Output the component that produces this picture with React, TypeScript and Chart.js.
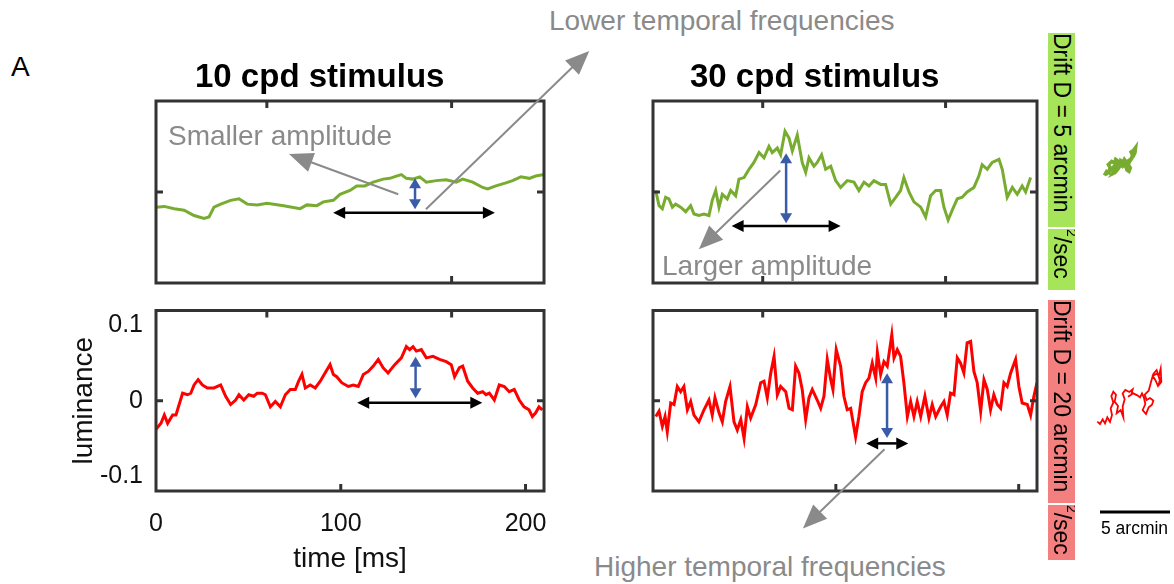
import React, { useEffect, useRef } from "react";
import { Chart, registerables } from "chart.js";
Chart.register(...registerables);

const FONT = '"Liberation Sans", Arial, Helvetica, sans-serif';
Chart.defaults.font.family = FONT;

// ---------- colours ----------
const GREEN = "#77ac30";
const RED = "#ff0000";
const BLUE = "#3a5ca8";
const GRAY = "#8a8a8a";
const FRAME = "#333333";
const GREEN_BAND = "#a6e55a";
const RED_BAND = "#f37f7f";

// ---------- data: 10 cpd, D = 5 (top-left) ----------
const tTL = [0, 4.5, 9.9, 15.2, 20.6, 26, 28.7, 31.4, 35, 40.4, 44.9, 49.4, 54.8, 60.1, 69.1, 78, 81.7, 87, 90.6, 96, 99.6, 105, 108.6, 113, 117.6, 123, 126.6, 130.1, 132.8, 135.5, 139, 142.7, 146.3, 151.7, 157, 162.5, 166, 171.4, 176.8, 179.5, 184, 189.4, 193, 197.5, 202, 205.5, 210];
const lumTL = [-0.02, -0.019, -0.022, -0.024, -0.031, -0.035, -0.033, -0.02, -0.016, -0.011, -0.009, -0.016, -0.017, -0.015, -0.018, -0.022, -0.017, -0.018, -0.013, -0.011, -0.003, 0.002, 0.008, 0.008, 0.013, 0.017, 0.018, 0.021, 0.023, 0.018, 0.017, 0.02, 0.013, 0.015, 0.016, 0.013, 0.017, 0.013, 0.006, 0.004, 0.008, 0.012, 0.015, 0.02, 0.018, 0.021, 0.023];

// ---------- data: 30 cpd, D = 5 (top-right) ----------
const tTR = [1.5, 3.3, 5.1, 6.9, 8.7, 10.6, 12.4, 15.1, 17.9, 20.6, 22.4, 25.1, 27.9, 30.6, 32.4, 34.3, 36.1, 37.9, 40.6, 42.5, 45.2, 47, 49.8, 52.5, 55.2, 58, 60.7, 63.4, 65.2, 68, 69.8, 72.2, 74.4, 76.2, 78.9, 81.6, 83.5, 85.3, 88, 89.8, 92.2, 94.4, 97.2, 99.9, 102.6, 106.2, 109.9, 112.6, 115.4, 118.1, 120.8, 124.5, 127.2, 130, 132.7, 135.4, 137.2, 140, 142.7, 146.4, 149.1, 151.8, 154.6, 157.3, 159.1, 161.4, 164, 166.4, 169.1, 171.8, 175.5, 178.2, 180, 182.8, 185.5, 189.2, 191, 193.7, 196.5, 199.2, 201.9, 203.8, 206.5];
const lumTR = [0.002, -0.018, -0.022, -0.007, -0.009, -0.02, -0.016, -0.02, -0.026, -0.018, -0.029, -0.031, -0.029, -0.031, -0.011, 0.002, -0.02, -0.003, -0.009, 0.002, -0.005, 0.017, 0.019, 0.03, 0.039, 0.052, 0.045, 0.06, 0.052, 0.058, 0.049, 0.08, 0.071, 0.054, 0.075, 0.039, 0.026, 0.045, 0.034, 0.039, 0.049, 0.03, 0.034, 0.015, 0.006, 0.015, 0.013, 0.002, 0.013, 0.008, 0.015, 0.01, 0.01, -0.016, -0.007, 0.002, 0.019, 0.0, -0.013, -0.02, -0.033, -0.005, 0.002, 0.002, -0.02, -0.037, -0.022, -0.009, -0.007, 0.0, 0.006, 0.021, 0.036, 0.03, 0.039, 0.043, 0.03, -0.007, 0.006, -0.003, 0.008, 0.0, 0.019];

// ---------- data: 10 cpd, D = 20 (bottom-left) ----------
const tBL = [0, 2.7, 4.5, 6.3, 9, 10.8, 14.4, 17.1, 18.8, 20.6, 22.8, 25.1, 27.8, 31.4, 35, 37.7, 40.4, 43.1, 44.9, 47.5, 50.2, 52.9, 54.8, 57.5, 59.2, 61.9, 64.6, 67.3, 70, 72.7, 75.4, 77.2, 79, 80.8, 83.5, 86.2, 88.9, 91.5, 94.2, 96, 97.8, 100.5, 104.1, 106.8, 109.5, 112.2, 114.9, 117.6, 120.3, 122.9, 125.6, 129.2, 132.8, 135.5, 137.3, 139.1, 140.9, 143.6, 146.3, 149.9, 153.5, 157.1, 159.8, 161.6, 164.2, 166, 168.7, 171.4, 174.1, 176.8, 178.6, 180.4, 183.1, 185.8, 188.5, 191.2, 193.9, 196.6, 199.2, 201.9, 203.7, 205.5, 207.3, 209.1];
const lumBL = [-0.038, -0.03, -0.019, -0.03, -0.019, -0.019, 0.01, 0.008, 0.01, 0.021, 0.028, 0.021, 0.017, 0.017, 0.021, 0.006, -0.005, 0.001, 0.008, 0.001, 0.008, 0.006, 0.01, 0.01, 0.008, -0.008, -0.001, -0.008, 0.008, 0.015, 0.015, 0.026, 0.035, 0.017, 0.021, 0.017, 0.026, 0.037, 0.048, 0.035, 0.032, 0.024, 0.019, 0.021, 0.019, 0.035, 0.039, 0.046, 0.055, 0.044, 0.037, 0.048, 0.057, 0.072, 0.068, 0.072, 0.066, 0.068, 0.057, 0.059, 0.055, 0.052, 0.048, 0.032, 0.044, 0.046, 0.026, 0.017, 0.01, 0.012, 0.008, 0.01, 0.001, 0.021, 0.019, 0.012, 0.015, 0.001, -0.008, -0.012, -0.021, -0.016, -0.008, -0.012];

// ---------- data: 30 cpd, D = 20 (bottom-right) ----------
const tBR = [1.5, 3.3, 5.1, 6.6, 7.8, 9.7, 11.5, 13.3, 15.1, 16.9, 18.8, 20.6, 22.4, 25.1, 27.9, 30.6, 32.4, 33.9, 36.1, 37.9, 39.7, 42.1, 44.3, 46.1, 48, 49.8, 51.6, 53.4, 56.2, 58.9, 60.7, 62.5, 64.4, 66.2, 68, 69.8, 72.6, 74.4, 76.2, 78, 79.8, 81.6, 83.5, 85.3, 87.1, 89.8, 91.7, 93.5, 95.3, 97.2, 98.4, 100.2, 102.6, 104.4, 106.2, 108.1, 109.5, 110.8, 112.6, 114.4, 116.3, 118.1, 119.9, 121.8, 122.7, 124.5, 126.3, 128.1, 130.6, 131.8, 133.6, 135.4, 137.2, 139.1, 140.9, 142.7, 144.5, 146.4, 148.7, 150.9, 152.7, 154.6, 157.3, 159.1, 160.9, 162.7, 164.6, 166.4, 168.2, 170, 171.8, 173.7, 175.5, 177.3, 179.2, 181, 182.8, 184.6, 186.4, 188.3, 190.1, 191.9, 193.7, 195.6, 198.3, 200.1, 201.9, 204.7, 206.5, 208.3, 210];
const lumBR = [-0.021, -0.014, -0.034, -0.021, -0.041, -0.003, -0.005, 0.019, 0.012, 0.019, -0.012, -0.001, -0.019, -0.028, -0.012, 0.001, -0.019, 0.004, -0.016, -0.028, -0.001, 0.019, -0.028, -0.039, -0.025, -0.05, -0.008, -0.023, -0.005, 0.024, 0.026, 0.004, 0.037, 0.059, 0.008, 0.019, 0.012, -0.01, -0.012, 0.046, 0.037, 0.015, -0.025, 0.004, 0.015, 0.001, -0.01, 0.006, 0.055, 0.028, 0.015, 0.068, 0.046, 0.006, -0.012, -0.01, -0.03, -0.048, -0.021, 0.012, 0.024, 0.03, 0.05, 0.03, 0.064, 0.035, 0.052, 0.046, 0.088, 0.057, 0.068, 0.059, 0.024, -0.021, -0.001, -0.021, -0.001, -0.021, 0.006, -0.023, -0.005, -0.021, -0.008, -0.001, -0.019, 0.01, 0.008, 0.057, 0.05, 0.037, 0.077, 0.079, 0.039, 0.024, -0.014, 0.028, 0.015, -0.012, 0.008, -0.005, -0.01, 0.024, 0.019, 0.037, 0.055, 0.019, -0.003, -0.005, -0.019, 0.006, 0.024];

// ---------- eye-drift traces (arcmin) ----------
const greenWalkX = [1.381, 1.548, 1.714, 1.786, 1.667, 1.905, 2.095, 2.19, 2.381, 2.476, 2.286, 2.095, 1.952, 2.143, 2.333, 2.5, 2.571, 2.714, 2.81, 2.952, 2.905, 3.0, 3.143, 3.238, 3.095, 3.19, 3.333, 3.381, 3.286, 3.476, 3.619, 3.571, 3.429, 3.238, 3.048, 2.857, 2.714, 2.619, 2.429, 2.238, 2.048, 1.857, 1.619, 1.476];
const greenWalkY = [25.33, 25.62, 25.52, 25.9, 26.1, 26.33, 26.21, 26.48, 26.33, 26.1, 25.86, 25.67, 25.43, 25.52, 25.76, 26.0, 26.38, 26.29, 26.48, 26.29, 26.0, 25.71, 25.62, 25.86, 26.1, 26.33, 26.52, 26.81, 27.0, 27.14, 27.33, 26.95, 26.67, 26.48, 26.33, 26.14, 26.0, 26.19, 26.29, 26.1, 25.95, 25.71, 25.52, 25.38];
const redWalkX = [0.881, 1.071, 1.262, 1.429, 1.595, 1.786, 1.929, 1.833, 2.024, 1.881, 2.024, 2.214, 2.119, 2.357, 2.262, 2.548, 2.738, 2.69, 2.833, 2.69, 2.881, 3.167, 3.405, 3.31, 3.071, 3.452, 3.738, 3.929, 4.071, 4.214, 4.31, 4.119, 4.357, 4.548, 4.786, 4.881, 4.643, 4.405, 4.262, 4.548, 4.738, 4.881, 5.119, 5.262, 5.405, 5.452, 5.214, 5.024, 4.833, 5.167, 5.357, 5.262];
const redWalkY = [7.738, 7.571, 7.905, 7.619, 8.048, 7.714, 8.214, 8.69, 9.095, 9.571, 9.881, 9.667, 9.167, 8.857, 8.333, 8.571, 8.048, 8.81, 9.333, 9.762, 10.0, 9.857, 10.048, 9.667, 9.524, 9.762, 9.619, 9.476, 9.762, 9.429, 9.0, 8.571, 8.286, 8.762, 8.952, 9.238, 9.429, 9.286, 9.667, 9.952, 10.667, 11.143, 11.429, 10.952, 11.524, 10.571, 10.286, 10.714, 11.0, 11.19, 10.762, 10.381];
const scaleBarX = [1.071, 6.071];
const scaleBarY = [1.286, 1.286];

// ---------- axes ----------
const xTickValues = [0, 100, 200];
const xTickLabels = ["0", "100", "200"];
const yTickValues = [-0.1, 0, 0.1];
const yTickLabels = ["-0.1", "0", "0.1"];

// ---------- annotation arrows, in each panel's data units [t, lum] ----------
type Arrow = { from: number[]; to: number[]; kind: "gray" | "blue" | "black" };
const arrowsTL: Arrow[] = [
  { from: [131.1, -0.003], to: [72.0, 0.05], kind: "gray" },
  { from: [146.1, -0.0228], to: [234.5, 0.186], kind: "gray" },
  { from: [140.2, -0.0228], to: [140.2, 0.018], kind: "blue" },
  { from: [95.9, -0.0273], to: [183.4, -0.0273], kind: "black" },
];
const arrowsTR: Arrow[] = [
  { from: [69.6, 0.0284], to: [25.1, -0.0756], kind: "gray" },
  { from: [72.8, -0.0413], to: [72.8, 0.051], kind: "blue" },
  { from: [43.0, -0.0448], to: [102.6, -0.0448], kind: "black" },
];
const arrowsBL: Arrow[] = [
  { from: [140.5, 0.0032], to: [140.5, 0.0585], kind: "blue" },
  { from: [108.9, -0.0027], to: [176.6, -0.0027], kind: "black" },
];
const arrowsBR: Arrow[] = [
  { from: [126.6, -0.0646], to: [82.0, -0.1697], kind: "gray" },
  { from: [128, -0.0496], to: [128, 0.0364], kind: "blue" },
  { from: [116.6, -0.0567], to: [139.6, -0.0567], kind: "black" },
];

const ARROW_STYLE = {
  gray: { color: GRAY, width: 2, len: 24, half: 10, double: false },
  blue: { color: BLUE, width: 2.5, len: 10, half: 6, double: true },
  black: { color: "#000000", width: 2.5, len: 12, half: 6, double: true },
};

type FrameTicks = { top: number[]; bottom: number[]; left: number[]; right: number[] };

function pts(xs: number[], ys: number[]) {
  const n = Math.min(xs.length, ys.length);
  const out: { x: number; y: number }[] = [];
  for (let i = 0; i < n; i++) out.push({ x: xs[i], y: ys[i] });
  return out;
}

function head(ctx: CanvasRenderingContext2D, fx: number, fy: number, tx: number, ty: number, len: number, half: number) {
  const a = Math.atan2(ty - fy, tx - fx);
  const bx = tx - len * Math.cos(a);
  const by = ty - len * Math.sin(a);
  ctx.beginPath();
  ctx.moveTo(tx, ty);
  ctx.lineTo(bx + half * Math.sin(a), by - half * Math.cos(a));
  ctx.lineTo(bx - half * Math.sin(a), by + half * Math.cos(a));
  ctx.closePath();
  ctx.fill();
  return [bx + 0.5 * Math.cos(a), by + 0.5 * Math.sin(a)];
}

function framePlugin(ticks: FrameTicks) {
  return {
    id: "frame",
    afterDatasetsDraw(chart: any) {
      const { ctx, chartArea: a } = chart;
      const xs = chart.scales.x;
      const ys = chart.scales.y;
      const L = 7;
      ctx.save();
      ctx.strokeStyle = FRAME;
      ctx.lineWidth = 3;
      ctx.beginPath();
      ticks.top.forEach((v) => { const p = xs.getPixelForValue(v); ctx.moveTo(p, a.top); ctx.lineTo(p, a.top + L); });
      ticks.bottom.forEach((v) => { const p = xs.getPixelForValue(v); ctx.moveTo(p, a.bottom); ctx.lineTo(p, a.bottom - L); });
      ticks.left.forEach((v) => { const p = ys.getPixelForValue(v); ctx.moveTo(a.left, p); ctx.lineTo(a.left + L, p); });
      ticks.right.forEach((v) => { const p = ys.getPixelForValue(v); ctx.moveTo(a.right, p); ctx.lineTo(a.right - L, p); });
      ctx.stroke();
      ctx.strokeRect(a.left, a.top, a.right - a.left, a.bottom - a.top);
      ctx.restore();
    },
  };
}

function arrowPlugin(list: Arrow[]) {
  return {
    id: "arrows",
    afterDraw(chart: any) {
      const { ctx } = chart;
      const xs = chart.scales.x;
      const ys = chart.scales.y;
      ctx.save();
      for (const ar of list) {
        const s = ARROW_STYLE[ar.kind];
        const x1 = xs.getPixelForValue(ar.from[0]);
        const y1 = ys.getPixelForValue(ar.from[1]);
        const x2 = xs.getPixelForValue(ar.to[0]);
        const y2 = ys.getPixelForValue(ar.to[1]);
        ctx.fillStyle = s.color;
        ctx.strokeStyle = s.color;
        ctx.lineWidth = s.width;
        const [ex, ey] = head(ctx, x1, y1, x2, y2, s.len, s.half);
        let sx = x1;
        let sy = y1;
        if (s.double) [sx, sy] = head(ctx, x2, y2, x1, y1, s.len, s.half);
        ctx.beginPath();
        ctx.moveTo(sx, sy);
        ctx.lineTo(ex, ey);
        ctx.stroke();
      }
      ctx.restore();
    },
  };
}

function traceConfig(t: number[], v: number[], color: string, pad: any, ticks: FrameTicks, arrows: Arrow[], withAxes: boolean): any {
  const axisFont = { size: 25, family: FONT };
  const titleFont = { size: 28, family: FONT };
  const x: any = { type: "linear", min: 0, max: 210, display: false };
  const y: any = { type: "linear", min: -0.12, max: 0.12, display: false };
  if (withAxes) {
    Object.assign(x, {
      display: true,
      afterFit: (s: any) => { s.height = 93; s.paddingLeft = 0; s.paddingRight = 0; },
      afterBuildTicks: (s: any) => { s.ticks = xTickValues.map((value) => ({ value })); },
      ticks: {
        font: axisFont,
        color: "#111",
        padding: 18,
        maxRotation: 0,
        autoSkip: false,
        callback: (_v: any, i: number) => xTickLabels[i],
      },
      grid: { display: false, drawTicks: false },
      border: { display: false },
      title: { display: true, text: "time [ms]", font: titleFont, color: "#111", padding: { top: 0, bottom: 8 } },
    });
    Object.assign(y, {
      display: true,
      afterFit: (s: any) => { s.width = 156; s.paddingTop = 0; s.paddingBottom = 0; },
      afterBuildTicks: (s: any) => { s.ticks = yTickValues.map((value) => ({ value })); },
      ticks: {
        font: axisFont,
        color: "#111",
        padding: 13,
        autoSkip: false,
        callback: (_v: any, i: number) => yTickLabels[i],
      },
      grid: { display: false, drawTicks: false },
      border: { display: false },
      title: { display: true, text: "luminance", font: titleFont, color: "#111", padding: { top: 67, bottom: 0 } },
    });
  }
  return {
    type: "line",
    data: {
      datasets: [
        { data: pts(t, v), borderColor: color, borderWidth: 3, pointRadius: 0, tension: 0, fill: false },
      ],
    },
    options: {
      animation: false,
      responsive: false,
      events: [],
      layout: { padding: pad },
      plugins: { legend: { display: false }, tooltip: { enabled: false }, title: { display: false } },
      scales: { x, y },
    },
    plugins: [framePlugin(ticks), arrowPlugin(arrows)],
  };
}

function walkConfig(): any {
  return {
    type: "line",
    data: {
      datasets: [
        { data: pts(greenWalkX, greenWalkY), borderColor: GREEN, borderWidth: 3.5, pointRadius: 0, tension: 0, fill: false },
        { data: pts(redWalkX, redWalkY), borderColor: RED, borderWidth: 1.8, pointRadius: 0, tension: 0, fill: false },
        { data: pts(scaleBarX, scaleBarY), borderColor: "#000", borderWidth: 3, pointRadius: 0, tension: 0, fill: false },
      ],
    },
    options: {
      animation: false,
      responsive: false,
      events: [],
      layout: { padding: 0 },
      plugins: { legend: { display: false }, tooltip: { enabled: false } },
      scales: {
        x: { type: "linear", min: 0, max: 6.357, display: false },
        y: { type: "linear", min: 0, max: 28.571, display: false },
      },
    },
  };
}

function ChartBox(props: { left: number; top: number; width: number; height: number; build: () => any }) {
  const ref = useRef<HTMLCanvasElement>(null);
  useEffect(() => {
    const c = new Chart(ref.current as HTMLCanvasElement, props.build());
    return () => c.destroy();
  }, []);
  return (
    <canvas
      ref={ref}
      width={props.width}
      height={props.height}
      style={{ position: "absolute", left: props.left, top: props.top, width: props.width, height: props.height }}
    />
  );
}

function Txt(props: { left: number; baseline: number; size: number; color?: string; bold?: boolean; children: any }) {
  return (
    <div
      style={{
        position: "absolute",
        left: props.left,
        top: props.baseline - 0.8465 * props.size,
        fontSize: props.size,
        lineHeight: `${props.size}px`,
        fontFamily: FONT,
        fontWeight: props.bold ? "bold" : "normal",
        color: props.color || "#000",
        whiteSpace: "nowrap",
      }}
    >
      {props.children}
    </div>
  );
}

function Band(props: { top: number; height: number; bg: string; children: any }) {
  return (
    <div
      style={{
        position: "absolute",
        left: 1048,
        top: props.top,
        width: 27,
        height: props.height,
        background: props.bg,
        writingMode: "vertical-rl",
        fontFamily: FONT,
        fontSize: 23,
        lineHeight: "27px",
        color: "#000",
        whiteSpace: "nowrap",
        overflow: "hidden",
      }}
    >
      {props.children}
    </div>
  );
}

const supStyle: any = { fontSize: "60%", lineHeight: 0, verticalAlign: "super" };

export default function App() {
  return (
    <div style={{ position: "absolute", left: 0, top: 0, width: 1174, height: 584, overflow: "hidden", background: "#fff" }}>
      <ChartBox
        left={100} top={40} width={500} height={260}
        build={() => traceConfig(tTL, lumTL, GREEN, { left: 56, top: 61, right: 56, bottom: 17 },
          { top: [60, 160], bottom: [160], left: [0], right: [0] }, arrowsTL, false)}
      />
      <ChartBox
        left={640} top={90} width={410} height={210}
        build={() => traceConfig(tTR, lumTR, GREEN, { left: 13, top: 11, right: 13, bottom: 17 },
          { top: [60, 160], bottom: [60, 160], left: [0], right: [0] }, arrowsTR, false)}
      />
      <ChartBox
        left={0} top={300} width={570} height={284}
        build={() => traceConfig(tBL, lumBL, RED, { left: 0, top: 10.5, right: 26, bottom: 0 },
          { top: [60, 160], bottom: [100, 200], left: [0], right: [0] }, arrowsBL, true)}
      />
      <ChartBox
        left={640} top={300} width={410} height={250}
        build={() => traceConfig(tBR, lumBR, RED, { left: 13, top: 10.5, right: 13, bottom: 59 },
          { top: [60, 160], bottom: [100, 200], left: [0], right: [0] }, arrowsBR, false)}
      />
      <ChartBox left={1085} top={130} width={89} height={400} build={walkConfig} />

      <Txt left={11} baseline={77} size={28}>A</Txt>
      <Txt left={195} baseline={86.7} size={33} bold>10 cpd stimulus</Txt>
      <Txt left={690} baseline={86.7} size={33} bold>30 cpd stimulus</Txt>
      <Txt left={549} baseline={31} size={28} color={GRAY}>Lower temporal frequencies</Txt>
      <Txt left={168} baseline={145.7} size={28} color={GRAY}>Smaller amplitude</Txt>
      <Txt left={662} baseline={276} size={28} color={GRAY}>Larger amplitude</Txt>
      <Txt left={594} baseline={576.7} size={28} color={GRAY}>Higher temporal frequencies</Txt>
      <Txt left={1101} baseline={535} size={17.5}>5 arcmin</Txt>

      <Band top={33} height={194} bg={GREEN_BAND}>Drift D = 5 arcmin</Band>
      <Band top={229} height={61} bg={GREEN_BAND}><sup style={supStyle}>2</sup>/sec</Band>
      <Band top={300} height={203} bg={RED_BAND}>Drift D = 20 arcmin</Band>
      <Band top={505} height={55} bg={RED_BAND}><sup style={supStyle}>2</sup>/sec</Band>
    </div>
  );
}
